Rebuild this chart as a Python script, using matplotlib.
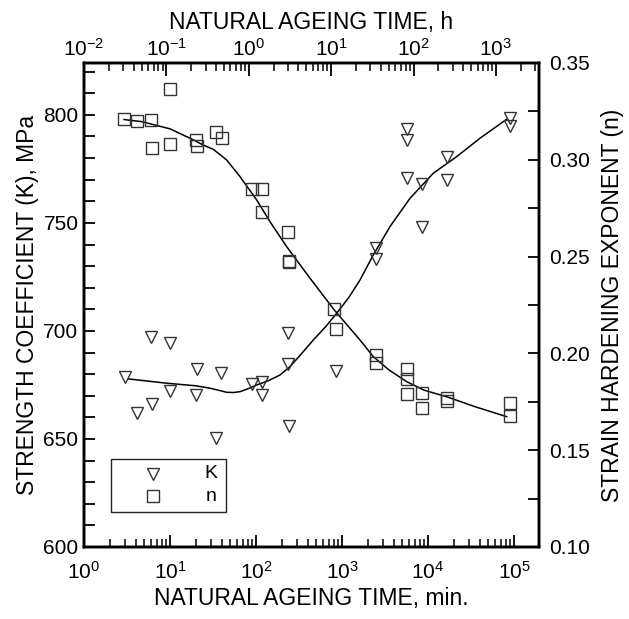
import numpy as np
import matplotlib
matplotlib.use("Agg")
import matplotlib.pyplot as plt
from matplotlib.ticker import LogLocator, MultipleLocator, NullFormatter, FormatStrFormatter
from matplotlib.patches import Rectangle

plt.rcParams['font.family'] = ['Liberation Sans', 'DejaVu Sans']
plt.rcParams['mathtext.fontset'] = 'custom'
plt.rcParams['mathtext.rm'] = 'Liberation Sans'
plt.rcParams['mathtext.it'] = 'Liberation Sans'
plt.rcParams['mathtext.bf'] = 'Liberation Sans'

# ---- data: strength coefficient K (MPa) vs natural ageing time (min) ----
k_time = [89860, 89860, 5655, 5655, 5655, 8515, 8515, 16760, 16760, 2465, 2465,
          3.00, 4.10, 6.13, 5.97, 10.0, 10.0, 20.4, 20.1, 39.5, 34.5, 89.1, 118, 118,
          237, 237, 244, 852]
k_vals = [798.5, 794.9, 793.4, 788.4, 770.7, 768.1, 748.0, 780.7, 769.9, 738.6, 733.2,
          678.6, 661.9, 666.1, 697.4, 694.3, 672.2, 682.4, 670.4, 680.4, 650.3, 675.3, 676.4, 670.4,
          699.2, 684.6, 656.2, 681.5]

# ---- data: strain hardening exponent n vs natural ageing time (min) ----
n_time = [2.94, 4.10, 5.97, 10.0, 6.18, 10.0, 19.9, 20.4, 34.5, 39.9, 89.1, 118, 118,
          237, 240, 241, 814, 852, 2465, 2465, 5655, 5655, 5655, 8515, 8515, 16760, 16760,
          89860, 89860]
n_vals = [0.321, 0.3199, 0.3206, 0.3364, 0.3061, 0.3080, 0.3101, 0.3071, 0.3142, 0.3114,
          0.2848, 0.2849, 0.2732, 0.2626, 0.2477, 0.2470, 0.2229, 0.2124, 0.1992, 0.1949,
          0.1918, 0.1868, 0.1790, 0.1794, 0.1718, 0.1771, 0.1753, 0.1745, 0.1677]

# ---- fitted curves ----
kfit_time = [3.27, 9.16, 20.0, 29.2, 38.0, 45.6, 55.0, 65.2, 80.0, 102, 140, 190, 248.5,
             330, 463.8, 640, 867.6, 1200, 1619, 2312, 3614, 6176, 11520, 21570, 40240, 82290]
kfit_vals = [677.8, 675.8, 674.6, 673.5, 672.4, 671.6, 671.5, 671.9, 673.2, 675.0, 677.0,
             679.6, 683.5, 689.0, 695.8, 701.8, 708.2, 715.5, 723.6, 735.2, 748.3, 761.4,
             773.0, 780.7, 789.2, 798.0]
nfit_time = [2.92, 4.69, 10.0, 17.9, 24.4, 31.9, 45.6, 65.2, 81.4, 102, 145.5, 227.5, 424.6,
             814, 1619, 2312, 3500, 5655, 9000, 16500, 35000, 82290]
nfit_vals = [0.3208, 0.3197, 0.3160, 0.3107, 0.3076, 0.3054, 0.2999, 0.2913, 0.2853, 0.2792,
             0.2680, 0.2551, 0.2388, 0.2224, 0.2069, 0.1983, 0.1915, 0.1854, 0.1810, 0.1776,
             0.1725, 0.1673]

legend_labels = ["K", "n"]

W, H = 629, 619
fig = plt.figure(figsize=(W / 100, H / 100), dpi=100)
L, R, T, B = 84, 539, 63, 547
ax = fig.add_axes([L / W, 1 - B / H, (R - L) / W, (B - T) / H])
axn = ax.twinx()
axt = ax.twiny()

FS = 15
LFS = 16.5
edge = '#333333'

# K on left axis
ax.plot(kfit_time, kfit_vals, color='black', lw=1.1, zorder=2)
ax.plot(k_time, k_vals, linestyle='none', marker='v', markersize=9, markerfacecolor='none',
        markeredgecolor=edge, markeredgewidth=1.0, zorder=3)
ax.set_xscale('log')
ax.set_xlim(1, 1.95e5)
ax.set_ylim(600, 824)
ax.yaxis.set_major_locator(MultipleLocator(50))
ax.yaxis.set_minor_locator(MultipleLocator(10))
ax.xaxis.set_major_locator(LogLocator(base=10, numticks=20))
ax.xaxis.set_minor_locator(LogLocator(base=10, subs=np.arange(2, 10), numticks=100))
ax.xaxis.set_minor_formatter(NullFormatter())
ax.set_xlabel("NATURAL AGEING TIME, min.", fontsize=LFS, labelpad=3)
ax.set_ylabel("STRENGTH COEFFICIENT (K), MPa", fontsize=LFS, labelpad=3)
ax.tick_params(axis='both', which='major', direction='in', labelsize=FS, width=1.3)
ax.tick_params(axis='x', which='major', length=9, pad=10)
ax.tick_params(axis='x', which='minor', direction='in', length=6, width=1.1)
ax.tick_params(axis='y', which='major', length=8, pad=4)
ax.tick_params(axis='y', which='minor', direction='in', length=8, width=1.3)
ax.tick_params(top=False, right=False, which='both')

# n on right axis
axn.plot(nfit_time, nfit_vals, color='black', lw=1.1, zorder=2)
axn.plot(n_time, n_vals, linestyle='none', marker='s', markersize=8.5, markerfacecolor='none',
         markeredgecolor=edge, markeredgewidth=1.0, zorder=3)
axn.set_ylim(0.10, 0.35)
axn.yaxis.set_major_locator(MultipleLocator(0.05))
axn.yaxis.set_minor_locator(MultipleLocator(0.025))
axn.yaxis.set_major_formatter(FormatStrFormatter('%.2f'))
axn.tick_params(axis='y', which='major', direction='in', length=8, width=1.3, labelsize=FS, pad=7)
axn.tick_params(axis='y', which='minor', direction='in', length=8, width=1.3)
axn.set_ylabel("STRAIN HARDENING EXPONENT (n)", fontsize=LFS, labelpad=8)

# top axis in hours
axt.set_xscale('log')
axt.set_xlim(0.01, 3333)
axt.xaxis.set_major_locator(LogLocator(base=10, numticks=20))
axt.xaxis.set_minor_locator(LogLocator(base=10, subs=np.arange(2, 10), numticks=100))
axt.xaxis.set_minor_formatter(NullFormatter())
axt.tick_params(axis='x', which='major', direction='in', length=9, width=1.3, labelsize=FS, pad=2)
axt.tick_params(axis='x', which='minor', direction='in', length=6, width=1.1)
axt.set_xlabel("NATURAL AGEING TIME, h", fontsize=LFS, labelpad=7)

for a in (ax, axn, axt):
    for s in a.spines.values():
        s.set_linewidth(1.7)

# legend box drawn manually
lax = axn
lax.add_patch(Rectangle((0.059, 0.072), 0.253, 0.110, transform=lax.transAxes,
                        facecolor='white', edgecolor='#222222', lw=1.0, zorder=5))
lax.plot([0.151], [0.151], transform=lax.transAxes, marker='v', markersize=9,
         markerfacecolor='none', markeredgecolor=edge, markeredgewidth=1.0, zorder=6,
         linestyle='none', clip_on=False)
lax.plot([0.151], [0.105], transform=lax.transAxes, marker='s', markersize=8.5,
         markerfacecolor='none', markeredgecolor=edge, markeredgewidth=1.0, zorder=6,
         linestyle='none', clip_on=False)
lax.text(0.279, 0.151, legend_labels[0], transform=lax.transAxes, fontsize=14,
         ha='center', va='center', zorder=7)
lax.text(0.279, 0.105, legend_labels[1], transform=lax.transAxes, fontsize=14,
         ha='center', va='center', zorder=7)

fig.savefig("out.png", dpi=100)
